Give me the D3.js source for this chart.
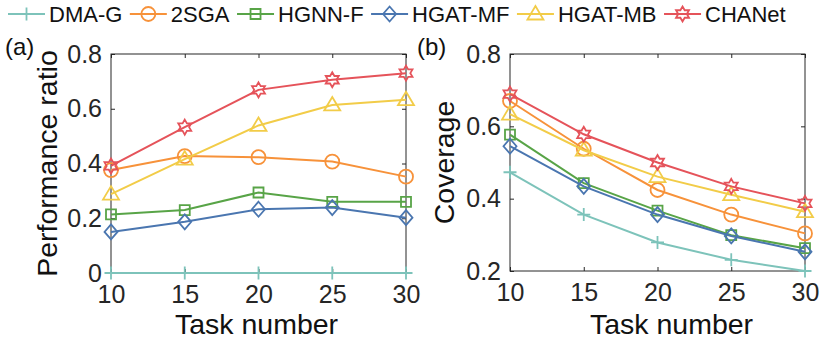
<!DOCTYPE html>
<html>
<head>
<meta charset="utf-8">
<script src="https://d3js.org/d3.v7.min.js"></script>
<style>
  body { margin: 0; background: #fff; }
  text { font-family: "Liberation Sans", Arial, Helvetica, sans-serif; }
</style>
</head>
<body>
<div id="chart"></div>
<script>
  // ---- data ----
  var taskNumbers = [10, 15, 20, 25, 30];
  var methods = ["DMA-G", "2SGA", "HGNN-F", "HGAT-MF", "HGAT-MB", "CHANet"];
  var colors  = ["#7dc3ba", "#f7923a", "#58a447", "#4a76b0", "#f2cc48", "#e5535a"];
  var markers = ["plus", "circle", "square", "diamond", "triangle", "hexagram"];

  // (a) performance ratio
  var perfDMAG   = [0, 0, 0, 0, 0];
  var perf2SGA   = [0.376, 0.427, 0.423, 0.407, 0.352];
  var perfHGNNF  = [0.214, 0.230, 0.294, 0.260, 0.260];
  var perfHGATMF = [0.150, 0.187, 0.233, 0.239, 0.202];
  var perfHGATMB = [0.288, 0.416, 0.539, 0.614, 0.633];
  var perfCHANet = [0.391, 0.533, 0.669, 0.706, 0.730];

  // (b) coverage
  var covDMAG   = [0.473, 0.356, 0.279, 0.231, 0.200];
  var cov2SGA   = [0.670, 0.538, 0.424, 0.356, 0.304];
  var covHGNNF  = [0.577, 0.443, 0.367, 0.299, 0.263];
  var covHGATMF = [0.545, 0.434, 0.356, 0.297, 0.253];
  var covHGATMB = [0.634, 0.534, 0.461, 0.411, 0.364];
  var covCHANet = [0.689, 0.578, 0.500, 0.434, 0.387];

  var perfTicks = [0, 0.2, 0.4, 0.6, 0.8];
  var covTicks  = [0.2, 0.4, 0.6, 0.8];

  var width = 830, height = 344;
  var axisColor = "#262626";

  var svg = d3.select("#chart").append("svg")
      .attr("width", width)
      .attr("height", height);

  // marker shapes, stroked only (like matlab defaults)
  function markerPath(type) {
    var p = d3.path();
    if (type == "plus") {
      p.moveTo(-6.5, 0); p.lineTo(6.5, 0);
      p.moveTo(0, -6.5); p.lineTo(0, 6.5);
    } else if (type == "circle") {
      p.arc(0, 0, 7, 0, 2 * Math.PI);
    } else if (type == "square") {
      p.rect(-5, -5, 10, 10);
    } else if (type == "diamond") {
      p.moveTo(0, -7.5); p.lineTo(6.5, 0); p.lineTo(0, 7.5); p.lineTo(-6.5, 0); p.closePath();
    } else if (type == "triangle") {
      p.moveTo(0, -8); p.lineTo(8, 5.5); p.lineTo(-8, 5.5); p.closePath();
    } else if (type == "hexagram") {
      var R = 7.5, r = R / Math.sqrt(3);
      for (var i = 0; i < 12; i++) {
        var a = -Math.PI / 2 + i * Math.PI / 6;
        var rr = (i % 2 == 0) ? R : r;
        if (i == 0) p.moveTo(rr * Math.cos(a), rr * Math.sin(a));
        else p.lineTo(rr * Math.cos(a), rr * Math.sin(a));
      }
      p.closePath();
    }
    return p.toString();
  }

  function drawPanel(opt) {
    var w = opt.x1 - opt.x0, h = opt.y1 - opt.y0;
    var g = svg.append("g").attr("transform", "translate(" + opt.x0 + "," + opt.y0 + ")");

    var x = d3.scaleLinear().domain([10, 30]).range([0, w]);
    var y = d3.scaleLinear().domain(opt.yDomain).range([h, 0]);

    // box
    g.append("rect")
        .attr("width", w).attr("height", h)
        .attr("fill", "none").attr("stroke", axisColor).attr("stroke-width", 1);

    function styleAxis(sel, withText) {
      sel.select(".domain").remove();
      sel.selectAll("line").attr("stroke", axisColor);
      sel.selectAll("text")
          .attr("fill", axisColor)
          .style("font-size", "25px");
      if (!withText) sel.selectAll("text").remove();
    }

    g.append("g").attr("transform", "translate(0," + h + ")")
        .call(d3.axisBottom(x).tickValues(taskNumbers).tickSizeInner(-4).tickSizeOuter(0).tickPadding(12))
        .call(styleAxis, true);
    g.append("g")
        .call(d3.axisTop(x).tickValues(taskNumbers).tickSizeInner(-4).tickSizeOuter(0))
        .call(styleAxis, false);
    g.append("g")
        .call(d3.axisLeft(y).tickValues(opt.ticks).tickFormat(d3.format("")).tickSizeInner(-4).tickSizeOuter(0).tickPadding(9))
        .call(styleAxis, true);
    g.append("g").attr("transform", "translate(" + w + ",0)")
        .call(d3.axisRight(y).tickValues(opt.ticks).tickSizeInner(-4).tickSizeOuter(0))
        .call(styleAxis, false);

    // axis labels
    g.append("text")
        .attr("x", w / 2 + opt.xLabelShift).attr("y", h + opt.xLabelY)
        .attr("text-anchor", "middle")
        .style("font-size", "28.5px").attr("fill", "#111")
        .text("Task number");
    g.append("text")
        .attr("transform", "translate(" + opt.yLabelX + "," + (h / 2) + ") rotate(-90)")
        .attr("text-anchor", "middle")
        .style("font-size", "28.5px").attr("fill", "#111")
        .text(opt.yLabel);

    // panel tag
    svg.append("text")
        .attr("x", opt.tagX).attr("y", 55)
        .style("font-size", "24px").attr("fill", "#111")
        .text(opt.tag);

    var line = d3.line()
        .x(function(d, i) { return x(taskNumbers[i]); })
        .y(function(d) { return y(d); });

    opt.series.forEach(function(vals, k) {
      var s = g.append("g");
      s.append("path")
          .attr("d", line(vals))
          .attr("fill", "none")
          .attr("stroke", colors[k])
          .attr("stroke-width", 2);
      s.selectAll("path.mk")
          .data(vals)
          .enter().append("path")
          .attr("class", "mk")
          .attr("transform", function(d, i) { return "translate(" + x(taskNumbers[i]) + "," + y(d) + ")"; })
          .attr("d", markerPath(markers[k]))
          .attr("fill", "none")
          .attr("stroke", colors[k])
          .attr("stroke-width", 1.8);
    });
  }

  drawPanel({
    x0: 111, x1: 406, y0: 54, y1: 273,
    yDomain: [0, 0.8], ticks: perfTicks,
    yLabel: "Performance ratio", yLabelX: -54,
    xLabelShift: -2, xLabelY: 61,
    tag: "(a)", tagX: 5,
    series: [perfDMAG, perf2SGA, perfHGNNF, perfHGATMF, perfHGATMB, perfCHANet]
  });

  drawPanel({
    x0: 510, x1: 805, y0: 54, y1: 271,
    yDomain: [0.2, 0.8], ticks: covTicks,
    yLabel: "Coverage", yLabelX: -56,
    xLabelShift: 14, xLabelY: 63,
    tag: "(b)", tagX: 417,
    series: [covDMAG, cov2SGA, covHGNNF, covHGATMF, covHGATMB, covCHANet]
  });

  // legend across the top
  var legend = svg.append("g").attr("transform", "translate(8,14)");
  var lx = 0;
  methods.forEach(function(name, k) {
    var it = legend.append("g").attr("transform", "translate(" + lx + ",0)");
    it.append("line")
        .attr("x1", 0).attr("x2", 37)
        .attr("stroke", colors[k]).attr("stroke-width", 2);
    it.append("path")
        .attr("transform", "translate(18.5,0)")
        .attr("d", markerPath(markers[k]))
        .attr("fill", "none")
        .attr("stroke", colors[k])
        .attr("stroke-width", 1.8);
    var t = it.append("text")
        .attr("x", 41).attr("y", 8)
        .style("font-size", "22px").attr("fill", "#111")
        .text(name);
    lx += 41 + t.node().getComputedTextLength() + 7.5;
  });
</script>
</body>
</html>
